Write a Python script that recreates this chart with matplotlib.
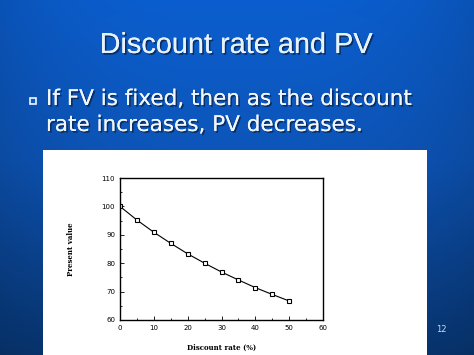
import numpy as np
import matplotlib
matplotlib.use("Agg")
import matplotlib.pyplot as plt
from matplotlib.patches import Rectangle
import matplotlib.patheffects as pe
from matplotlib.ticker import MultipleLocator

# Data
discount_rate = [0, 5, 10, 15, 20, 25, 30, 35, 40, 45, 50]
present_value = [100.0, 95.2, 90.9, 87.0, 83.3, 80.0, 76.9, 74.1, 71.4, 69.0, 66.7]
x_ticks = [0, 10, 20, 30, 40, 50, 60]
y_ticks = [60, 70, 80, 90, 100, 110]

title = "Discount rate and PV"
bullet_lines = ["If FV is fixed, then as the discount", "rate increases, PV decreases."]
page_num = "12"

W, H = 474, 355
fig = plt.figure(figsize=(W / 100, H / 100), dpi=100)

# Background gradient
bg = fig.add_axes([0, 0, 1, 1])
bg.set_axis_off()
top = np.array([0x0b, 0x5e, 0xcf]) / 255
mid = np.array([0x0d, 0x55, 0xb8]) / 255
bot = np.array([0x08, 0x36, 0x72]) / 255
n = 256
t = np.linspace(0, 1, n)[:, None]
grad = np.where(t < 0.45, top + (mid - top) * (t / 0.45), mid + (bot - mid) * ((t - 0.45) / 0.55))
xs = np.linspace(0, 1, 200)
edge = 1 - 0.12 * (np.abs(xs - 0.5) * 2) ** 3
img = grad[:, None, :] * edge[None, :, None]
bg.imshow(np.clip(img, 0, 1), aspect="auto", extent=[0, 1, 0, 1], origin="upper")
bg.set_xlim(0, 1)
bg.set_ylim(0, 1)

# White chart box
bg.add_patch(Rectangle((43 / W, 0), (427 - 43) / W, 1 - 150 / H, facecolor="white",
                       edgecolor="none", transform=bg.transAxes, zorder=2))

shadow = [pe.withSimplePatchShadow(offset=(1.2, -1.2), shadow_rgbFace="#0a2a55", alpha=0.9), pe.Normal()]

fig.text(236 / W, 1 - 45 / H, title, ha="center", va="center", fontsize=20.8,
         family="Liberation Sans", color="#e6f2ff", path_effects=shadow)

fig.text(46 / W, 1 - 99 / H, bullet_lines[0], ha="left", va="center", fontsize=15.5,
         family="DejaVu Sans", color="#f0f6ff", path_effects=shadow)
fig.text(46 / W, 1 - 125 / H, bullet_lines[1], ha="left", va="center", fontsize=15.5,
         family="DejaVu Sans", color="#f0f6ff", path_effects=shadow)
bg.plot([32.5 / W], [1 - 101 / H], marker="s", markersize=5, markerfacecolor="#0d5ac0",
        markeredgecolor="#f0f6ff", markeredgewidth=1.2, transform=bg.transAxes, zorder=3)

fig.text(441 / W, 1 - 330 / H, page_num, ha="center", va="center", fontsize=6,
         family="DejaVu Sans", color="#c8daf0")

# Chart axes
ax = fig.add_axes([120 / W, 1 - 320 / H, (323 - 120) / W, (320 - 178) / H])
ax.plot(discount_rate, present_value, color="black", linewidth=0.8, marker="s",
        markersize=2.6, markerfacecolor="white", markeredgecolor="black", markeredgewidth=0.8)
ax.set_xlim(0, 60)
ax.set_ylim(60, 110)
ax.set_xticks(x_ticks)
ax.set_yticks(y_ticks)
ax.xaxis.set_minor_locator(MultipleLocator(5))
ax.yaxis.set_minor_locator(MultipleLocator(5))
ax.tick_params(which="both", direction="in", labelsize=5, pad=3.5, width=0.6)
ax.tick_params(which="major", length=3)
ax.tick_params(which="minor", length=1.5)
for lab in ax.get_xticklabels() + ax.get_yticklabels():
    lab.set_family("DejaVu Sans")
for s in ax.spines.values():
    s.set_linewidth(1.0)
ax.set_xlabel("Discount rate (%)", fontsize=5, family="DejaVu Serif", fontweight="bold", labelpad=9)
ax.set_ylabel("Present value", fontsize=5, family="DejaVu Serif", fontweight="bold", labelpad=19)

fig.savefig("out.png", dpi=100)
